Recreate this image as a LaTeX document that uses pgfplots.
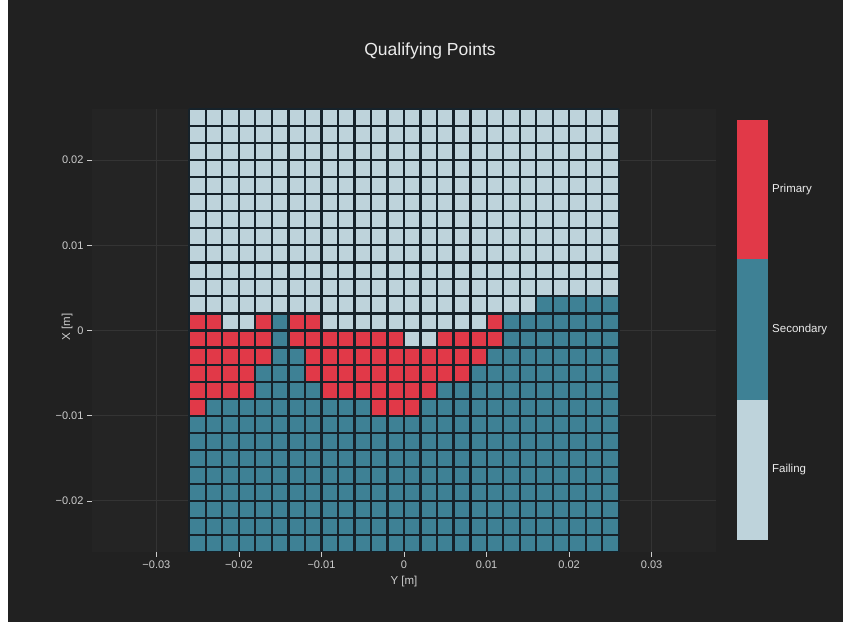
\documentclass[border=0pt]{standalone}
\usepackage{fontspec}
\setmainfont{Liberation Sans}
\usepackage{pgfplots}
\pgfplotsset{compat=1.18}

\definecolor{paper}{RGB}{33,33,33}
\definecolor{plotbg}{RGB}{36,36,36}
\definecolor{gridc}{RGB}{52,52,52}
\definecolor{fail}{RGB}{190,211,219}
\definecolor{second}{RGB}{62,129,149}
\definecolor{prim}{RGB}{225,57,72}
\definecolor{gapc}{RGB}{22,34,42}
\definecolor{txt}{RGB}{205,205,205}

\begin{document}
\begin{tikzpicture}[x=1bp,y=1bp]
\fill[white] (0,0) rectangle (843,632);
\fill[paper] (8,10) rectangle (843,632);
\useasboundingbox (0,0) rectangle (843,632);

\begin{axis}[
    at={(92bp,80bp)}, anchor=south west,
    scale only axis, width=624bp, height=443bp,
    xmin=-0.0378, xmax=0.0378,
    ymin=-0.026, ymax=0.026,
    scaled ticks=false,
    axis background/.style={fill=plotbg},
    axis line style={draw=none},
    xtick pos=bottom, ytick pos=left,
    tick align=outside, major tick length=5bp,
    tick style={color=txt, line width=0.6bp},
    xtick={-0.03,-0.02,-0.01,0,0.01,0.02,0.03},
    xticklabels={−0.03,−0.02,−0.01,0,0.01,0.02,0.03},
    ytick={-0.02,-0.01,0,0.01,0.02},
    yticklabels={−0.02,−0.01,0,0.01,0.02},
    xmajorgrids, ymajorgrids,
    grid style={color=gridc, line width=0.8bp},
    tick label style={font=\fontsize{11bp}{13bp}\selectfont, text=txt},
    label style={font=\fontsize{11.5bp}{13bp}\selectfont, text=txt},
    xlabel={Y [m]}, ylabel={X [m]},
    xlabel style={at={(axis description cs:0.5,-0.066)}, anchor=center},
    ylabel style={at={(axis description cs:-0.040,0.508)}, anchor=center},
]
% Secondary (base)
\addplot[fill=second, draw=none] coordinates {
  (-0.026,-0.026) (0.026,-0.026) (0.026,0.026) (-0.026,0.026)} -- cycle;
% Primary, left block
\addplot[fill=prim, draw=none] coordinates {
  (-0.026,0.002) (-0.016,0.002) (-0.016,-0.004) (-0.018,-0.004)
  (-0.018,-0.008) (-0.024,-0.008) (-0.024,-0.010) (-0.026,-0.010)} -- cycle;
% Primary, middle block
\addplot[fill=prim, draw=none] coordinates {
  (-0.014,0.002) (-0.010,0.002) (-0.010,0) (0.010,0) (0.010,0.002)
  (0.012,0.002) (0.012,-0.002) (0.010,-0.002) (0.010,-0.004)
  (0.008,-0.004) (0.008,-0.006) (0.004,-0.006) (0.004,-0.008)
  (0.002,-0.008) (0.002,-0.010) (-0.004,-0.010) (-0.004,-0.008)
  (-0.010,-0.008) (-0.010,-0.006) (-0.012,-0.006) (-0.012,-0.002)
  (-0.014,-0.002)} -- cycle;
% Failing
\addplot[fill=fail, draw=none] coordinates {
  (-0.026,0.026) (0.026,0.026) (0.026,0.004) (0.016,0.004)
  (0.016,0.002) (-0.026,0.002)} -- cycle;
\addplot[fill=fail, draw=none] coordinates {
  (-0.022,0.002) (-0.018,0.002) (-0.018,0) (-0.022,0)} -- cycle;
\addplot[fill=fail, draw=none] coordinates {
  (-0.010,0.002) (0.010,0.002) (0.010,0) (0.004,0) (0.004,-0.002)
  (0,-0.002) (0,0) (-0.010,0)} -- cycle;
% cell gaps
\pgfplotsinvokeforeach{0,...,26}{
  \draw[gapc, line width=2.1bp] (axis cs:{-0.026+0.002*#1},-0.026) -- (axis cs:{-0.026+0.002*#1},0.026);
  \draw[gapc, line width=2.1bp] (axis cs:-0.026,{-0.026+0.002*#1}) -- (axis cs:0.026,{-0.026+0.002*#1});
}
\draw[gapc!80!black, line width=3bp] (axis cs:0.008,-0.026) -- (axis cs:0.008,0.026);
\draw[gapc!80!black, line width=3bp] (axis cs:-0.026,0.008) -- (axis cs:0.026,0.008);
\end{axis}

% title
\node[font=\fontsize{17.5bp}{20bp}\selectfont, text=white!92!black] at (430,581) {Qualifying Points};

% colour bar
\fill[prim] (737,373) rectangle (768,512);
\fill[second] (737,232) rectangle (768,373);
\fill[fail] (737,92) rectangle (768,232);
\begin{scope}[every node/.style={anchor=west, inner sep=0pt, font=\fontsize{11.5bp}{13bp}\selectfont, text=white!92!black}]
\node at (772,442) {Primary};
\node at (772,302) {Secondary};
\node at (772,162) {Failing};
\end{scope}
\end{tikzpicture}
\end{document}
